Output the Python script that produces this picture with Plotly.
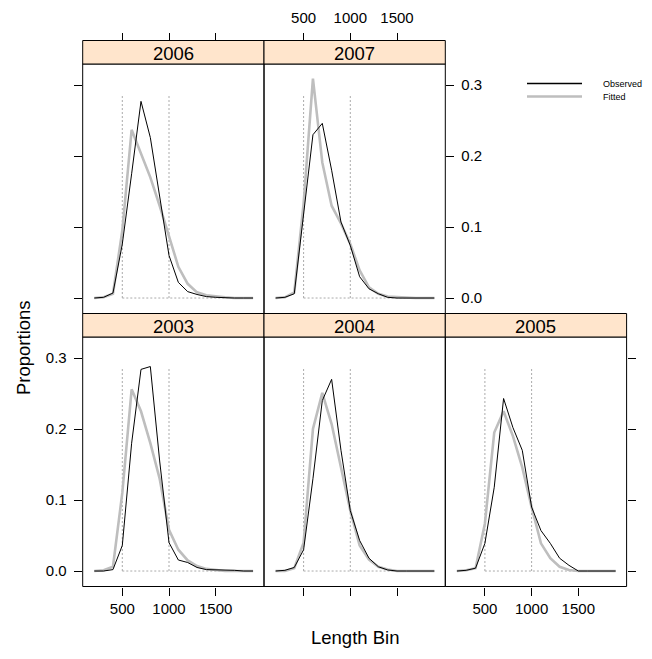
import plotly.graph_objects as go

# ---------------- data ----------------
bins = [200, 300, 400, 500, 600, 700, 800, 900, 1000, 1100, 1200, 1300, 1400, 1500, 1600, 1700, 1800, 1900]
years = ["2003", "2004", "2005", "2006", "2007"]

obs_2003 = [0, 0, 0.002, 0.036, 0.18, 0.284, 0.288, 0.155, 0.040, 0.0155, 0.012, 0.005, 0.002, 0.002, 0.002, 0.001, 0, 0]
fit_2003 = [0, 0.001, 0.006, 0.11, 0.256, 0.225, 0.18, 0.13, 0.058, 0.03, 0.015, 0.007, 0.003, 0.001, 0, 0, 0, 0]
obs_2004 = [0, 0.001, 0.005, 0.03, 0.13, 0.24, 0.27, 0.17, 0.085, 0.043, 0.018, 0.006, 0.0015, 0, 0, 0, 0, 0]
fit_2004 = [0, 0, 0.004, 0.04, 0.2, 0.251, 0.207, 0.146, 0.085, 0.036, 0.016, 0.006, 0.002, 0, 0, 0, 0, 0]
obs_2005 = [0, 0.001, 0.004, 0.039, 0.118, 0.243, 0.202, 0.17, 0.09, 0.057, 0.039, 0.018, 0.008, 0, 0, 0, 0, 0]
fit_2005 = [0, 0.001, 0.004, 0.067, 0.195, 0.225, 0.19, 0.146, 0.09, 0.039, 0.018, 0.006, 0.0015, 0, 0, 0, 0, 0]
obs_2006 = [0, 0.001, 0.007, 0.076, 0.175, 0.277, 0.226, 0.142, 0.06, 0.022, 0.009, 0.005, 0.002, 0.001, 0, 0, 0, 0]
fit_2006 = [0, 0.001, 0.006, 0.095, 0.237, 0.203, 0.17, 0.13, 0.086, 0.044, 0.02, 0.008, 0.004, 0.002, 0.001, 0, 0, 0]
obs_2007 = [0, 0.001, 0.006, 0.114, 0.23, 0.246, 0.18, 0.107, 0.074, 0.03, 0.013, 0.006, 0.001, 0, 0, 0, 0, 0]
fit_2007 = [0, 0.001, 0.008, 0.133, 0.309, 0.191, 0.13, 0.105, 0.076, 0.039, 0.015, 0.006, 0.002, 0.001, 0, 0, 0, 0]

observed = [obs_2003, obs_2004, obs_2005, obs_2006, obs_2007]
fitted = [fit_2003, fit_2004, fit_2005, fit_2006, fit_2007]

x_ticks = [500, 1000, 1500]
y_ticks = [0, 0.1, 0.2, 0.3]
y_ticktext = ["0.0", "0.1", "0.2", "0.3"]
ref_x = [500, 1000]
ref_top = 0.287
legend_labels = ["Observed", "Fitted"]

# ---------------- layout geometry ----------------
W, H = 652, 659
cols = [(82.7, 264.0), (264.0, 445.3), (445.3, 626.6)]
rows = {"top": (64.0, 313.5), "bottom": (337.0, 586.5)}
strip_h = 23.5
XR = [76, 2017]
YR = [-0.0218, 0.3296]

def px_x(p):
    return p / W

def px_y(p):
    return 1 - p / H

placement = {
    "2003": (0, "bottom"),
    "2004": (1, "bottom"),
    "2005": (2, "bottom"),
    "2006": (0, "top"),
    "2007": (1, "top"),
}

OBS_COLOR = "black"
FIT_COLOR = "#BEBEBE"
REF_COLOR = "#AAAAAA"
FONT = "Liberation Sans, Arial, Helvetica, sans-serif"

fig = go.Figure()
shapes = []
annotations = []

axis_cfg = {
    "2003": dict(xt=True, xl=True, yside="left", yt=True, yl=True),
    "2004": dict(xt=True, xl=False, yside="left", yt=False, yl=False),
    "2005": dict(xt=True, xl=True, yside="right", yt=True, yl=False),
    "2006": dict(xt=False, xl=False, yside="left", yt=True, yl=False),
    "2007": dict(xt=False, xl=False, yside="right", yt=True, yl=True),
}

for i, yr in enumerate(years):
    n = i + 1
    xa = "x" if n == 1 else f"x{n}"
    ya = "y" if n == 1 else f"y{n}"
    c, r = placement[yr]
    x0p, x1p = cols[c]
    top_p, bot_p = rows[r]

    for rx in ref_x:
        shapes.append(dict(type="line", xref=xa, yref=ya, x0=rx, x1=rx, y0=0, y1=ref_top,
                           line=dict(color=REF_COLOR, width=1, dash="2px,2px"), layer="below"))
    shapes.append(dict(type="line", xref=xa, yref=ya, x0=ref_x[0], x1=bins[-1], y0=0, y1=0,
                       line=dict(color=REF_COLOR, width=1, dash="2px,2px"), layer="below"))

    fig.add_trace(go.Scatter(x=bins, y=fitted[i], mode="lines", xaxis=xa, yaxis=ya,
                             line=dict(color=FIT_COLOR, width=2.6), name="Fitted",
                             showlegend=False, hoverinfo="skip"))
    fig.add_trace(go.Scatter(x=bins, y=observed[i], mode="lines", xaxis=xa, yaxis=ya,
                             line=dict(color=OBS_COLOR, width=1), name="Observed",
                             showlegend=False, hoverinfo="skip"))

    cfg = axis_cfg[yr]
    xaxis = dict(domain=[px_x(x0p), px_x(x1p)], range=XR, anchor=ya,
                 showgrid=False, zeroline=False, showline=False,
                 tickvals=x_ticks, ticks="outside" if cfg["xt"] else "",
                 ticklen=8, tickwidth=1, tickcolor="black",
                 showticklabels=cfg["xl"], side="bottom",
                 tickfont=dict(size=15, color="black", family=FONT))
    yaxis = dict(domain=[px_y(bot_p), px_y(top_p)], range=YR, anchor=xa,
                 showgrid=False, zeroline=False, showline=False,
                 tickvals=y_ticks, ticktext=y_ticktext,
                 ticks="outside" if cfg["yt"] else "",
                 ticklen=8, tickwidth=1, tickcolor="black",
                 showticklabels=cfg["yl"], side=cfg["yside"],
                 ticklabelstandoff=4,
                 tickfont=dict(size=15, color="black", family=FONT))
    fig.layout["xaxis" if n == 1 else f"xaxis{n}"] = xaxis
    fig.layout["yaxis" if n == 1 else f"yaxis{n}"] = yaxis

    shapes.append(dict(type="rect", xref="paper", yref="paper",
                       x0=px_x(x0p), x1=px_x(x1p), y0=px_y(bot_p), y1=px_y(top_p),
                       line=dict(color="black", width=1), fillcolor="rgba(0,0,0,0)", layer="above"))
    s_top = top_p - strip_h
    shapes.append(dict(type="rect", xref="paper", yref="paper",
                       x0=px_x(x0p), x1=px_x(x1p), y0=px_y(top_p), y1=px_y(s_top),
                       line=dict(color="black", width=1), fillcolor="#FFE5CC", layer="above"))
    annotations.append(dict(xref="paper", yref="paper", x=px_x((x0p + x1p) / 2),
                            y=px_y((top_p + s_top) / 2 + 1), text=yr, showarrow=False,
                            xanchor="center", yanchor="middle",
                            font=dict(size=18.5, color="black", family=FONT)))

strip_top_frac = px_y(rows["top"][0] - strip_h)
for n, base, lab in [(6, 4, False), (7, 5, True)]:
    fig.layout[f"xaxis{n}"] = dict(
        overlaying=f"x{base}", anchor="free", position=strip_top_frac, side="top",
        range=XR, showgrid=False, zeroline=False, showline=False,
        tickvals=x_ticks, ticks="outside", ticklen=8, tickwidth=1, tickcolor="black",
        showticklabels=lab, ticklabelstandoff=4,
        tickfont=dict(size=15, color="black", family=FONT))
    fig.add_trace(go.Scatter(x=[None], y=[None], xaxis=f"x{n}", yaxis=f"y{base}",
                             mode="lines", showlegend=False, hoverinfo="skip"))

leg_x0, leg_x1 = 527, 582
leg_rows = [(83.5, OBS_COLOR, 1.3), (96.5, FIT_COLOR, 2.6)]
for (yy, col, wd), lab in zip(leg_rows, legend_labels):
    shapes.append(dict(type="line", xref="paper", yref="paper",
                       x0=px_x(leg_x0), x1=px_x(leg_x1), y0=px_y(yy), y1=px_y(yy),
                       line=dict(color=col, width=wd)))
    annotations.append(dict(xref="paper", yref="paper", x=px_x(601), y=px_y(yy + 0.5),
                            text=lab, showarrow=False, xanchor="left", yanchor="middle",
                            font=dict(size=9, color="black", family=FONT)))

annotations.append(dict(xref="paper", yref="paper", x=px_x(355), y=px_y(637),
                        text="Length Bin", showarrow=False, xanchor="center", yanchor="middle",
                        font=dict(size=18.5, color="black", family=FONT)))
annotations.append(dict(xref="paper", yref="paper", x=px_x(23), y=px_y(348),
                        text="Proportions", showarrow=False, textangle=-90,
                        xanchor="center", yanchor="middle",
                        font=dict(size=18.5, color="black", family=FONT)))

fig.update_layout(width=W, height=H, margin=dict(l=0, r=0, t=0, b=0),
                  plot_bgcolor="white", paper_bgcolor="white", showlegend=False,
                  font=dict(family=FONT, size=15, color="black"),
                  shapes=shapes, annotations=annotations)

fig.write_html("out.html")
